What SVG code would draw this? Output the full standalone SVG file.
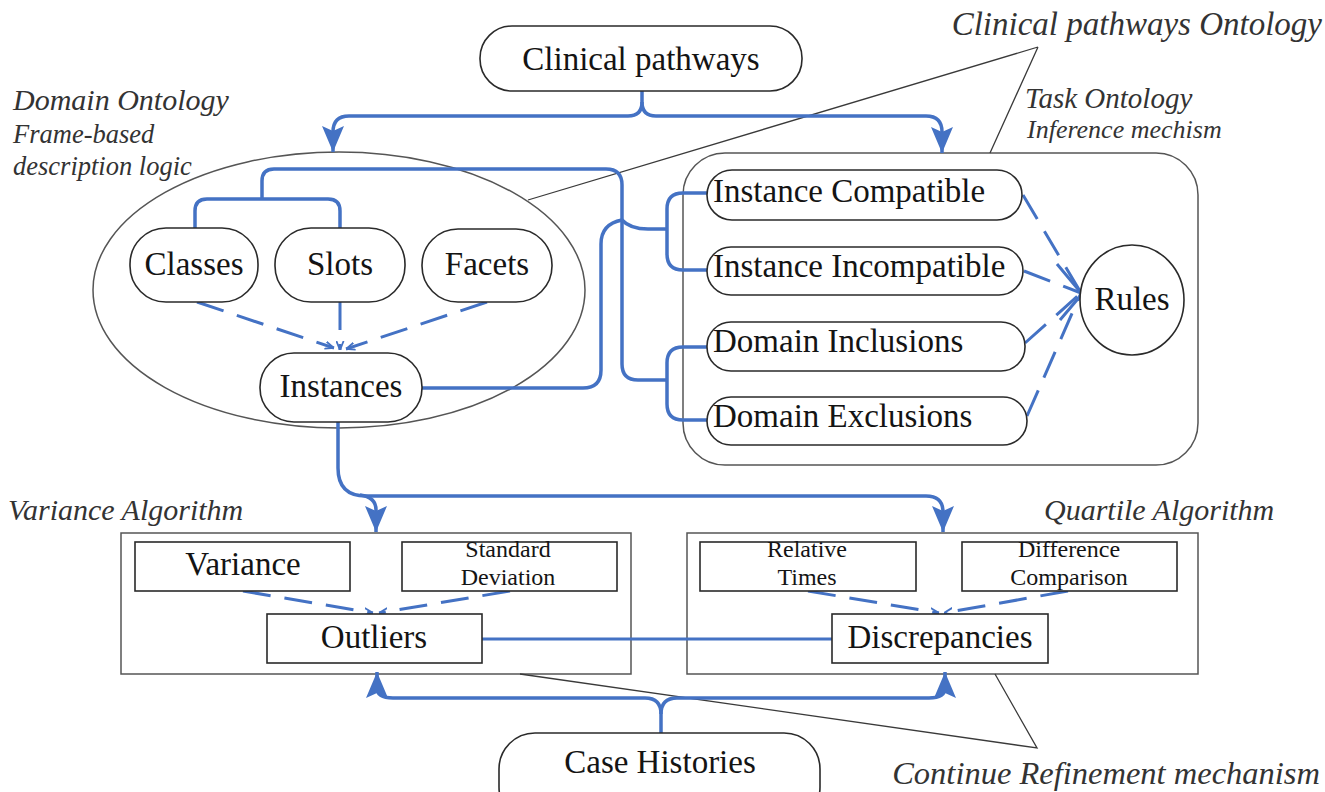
<svg xmlns="http://www.w3.org/2000/svg" width="1325" height="792" viewBox="0 0 1325 792">
  <style>
    .bg { fill: #ffffff; }
    .node { fill: #ffffff; stroke: #2a2a2a; stroke-width: 1.6; }
    .frame { fill: none; stroke: #555555; stroke-width: 1.5; }
    .lbl { font-family: "Liberation Serif", "Times New Roman", serif; font-size: 33px; fill: #141414; text-anchor: middle; }
    .lbl-l { font-family: "Liberation Serif", "Times New Roman", serif; font-size: 33px; fill: #141414; }
    .two { font-family: "Liberation Serif", "Times New Roman", serif; font-size: 24px; fill: #141414; text-anchor: middle; }
    .cap { font-family: "Liberation Serif", "Times New Roman", serif; font-style: italic; fill: #333333; }
    .flow { fill: none; stroke: #4472c4; stroke-width: 3.5; stroke-linejoin: round; }
    .link { fill: none; stroke: #4472c4; stroke-width: 3; }
    .dash { fill: none; stroke: #4472c4; stroke-width: 3; stroke-dasharray: 28 14; }
    .call { fill: none; stroke: #3a3a3a; stroke-width: 1.3; }
  </style>
  <defs>
    <marker id="arrow" viewBox="0 0 26 22" refX="26" refY="11" markerWidth="26" markerHeight="22" markerUnits="userSpaceOnUse" orient="auto">
      <path d="M0,0 L26,11 L0,22 L5,11 z" fill="#4472c4"/>
    </marker>
    <marker id="tip" viewBox="0 0 10 10" refX="10" refY="5" markerWidth="9" markerHeight="9" markerUnits="userSpaceOnUse" orient="auto">
      <path d="M0,1 L10,5 L0,9" fill="none" stroke="#4472c4" stroke-width="2"/>
    </marker>
  </defs>

  <rect class="bg" x="0" y="0" width="1325" height="792"/>

  <!-- containers and annotations -->
  <g id="domain-ontology">
    <ellipse class="frame" cx="339" cy="290" rx="246" ry="138"/>
    <text class="cap" x="13" y="110" font-size="30">Domain Ontology</text>
    <text class="cap" x="13" y="143" font-size="26.5">Frame-based</text>
    <text class="cap" x="13" y="175" font-size="26.5">description logic</text>
  </g>
  <g id="task-ontology">
    <rect class="frame" x="683" y="153" width="515" height="312" rx="42"/>
    <text class="cap" x="1025" y="108" font-size="29">Task Ontology</text>
    <text class="cap" x="1027" y="138" font-size="26">Inference mechism</text>
  </g>
  <g id="clinical-pathways-ontology">
    <text class="cap" x="1322" y="35" font-size="33" text-anchor="end">Clinical pathways Ontology</text>
    <path class="call" d="M1038,47 L528,200 M1038,47 L990,153"/>
  </g>
  <g id="variance-algorithm">
    <rect class="frame" x="121" y="533" width="510" height="141"/>
    <text class="cap" x="8" y="520" font-size="30">Variance Algorithm</text>
  </g>
  <g id="quartile-algorithm">
    <rect class="frame" x="687" y="533" width="511" height="141"/>
    <text class="cap" x="1044" y="520" font-size="30">Quartile Algorithm</text>
  </g>
  <g id="continue-refinement">
    <text class="cap" x="1320" y="784" font-size="32.5" text-anchor="end">Continue Refinement mechanism</text>
    <path class="call" d="M520,674 L1037,748 L995,674"/>
  </g>

  <!-- connectors -->
  <g id="connectors">
    <path class="flow" d="M642,91 V102 Q642,116 628,116 H349 Q333,116 333,132 V152" marker-end="url(#arrow)"/>
    <path class="flow" d="M642,102 Q642,116 656,116 H926 Q942,116 942,132 V153" marker-end="url(#arrow)"/>

    <path class="flow" d="M195,228 V211 Q195,199 207,199 H328 Q340,199 340,211 V228"/>
    <path class="flow" d="M262,199 V181 Q262,169 274,169 H606 Q622,169 622,185 V364 Q622,380 638,380 H667"/>
    <path class="flow" d="M707,347 H683 Q667,347 667,363 V404 Q667,420 683,420 H707"/>
    <path class="flow" d="M422,388 H583 Q601,388 601,370 V244 Q601,224 622,220 Q630,229 648,229 H667"/>
    <path class="flow" d="M707,193 H683 Q667,193 667,209 V254 Q667,270 683,270 H707"/>

    <path class="dash" d="M197,302 L334,348" marker-end="url(#tip)"/>
    <path class="dash" d="M340,302 L340,350" stroke-dasharray="31 12" marker-end="url(#tip)"/>
    <path class="dash" d="M487,302 L346,349" marker-end="url(#tip)"/>

    <path class="dash" d="M1023,195 L1081,293"/>
    <path class="dash" d="M1024,271 L1081,293"/>
    <path class="dash" d="M1025,343 L1081,293"/>
    <path class="dash" d="M1027,416 L1081,293"/>
    <path class="link" d="M1057,264 L1082,294 L1060,320"/>

    <path class="flow" d="M338,422 V468 Q338,496 366,496 H926 Q943,496 943,512 V532" marker-end="url(#arrow)"/>
    <path class="flow" d="M360,495 Q376,497 376,510 V532" marker-end="url(#arrow)"/>

    <path class="dash" d="M243,591 L373,613" stroke-dasharray="30 16" marker-end="url(#tip)"/>
    <path class="dash" d="M510,591 L379,613" stroke-dasharray="30 16" marker-end="url(#tip)"/>
    <path class="dash" d="M808,591 L939,613" stroke-dasharray="30 16" marker-end="url(#tip)"/>
    <path class="dash" d="M1068,591 L944,613" stroke-dasharray="30 16" marker-end="url(#tip)"/>

    <path class="link" d="M482,639 H832"/>

    <path class="flow" d="M661,733 V714 Q661,698 645,698 H393 Q377,698 377,688 V672" marker-end="url(#arrow)"/>
    <path class="flow" d="M661,714 Q661,698 677,698 H929 Q945,698 945,688 V672" marker-end="url(#arrow)"/>
  </g>

  <!-- nodes -->
  <g id="clinical-pathways">
    <rect class="node" x="480" y="26" width="322" height="65" rx="32"/>
    <text class="lbl" x="641" y="70">Clinical pathways</text>
  </g>
  <g id="classes">
    <rect class="node" x="130" y="228" width="128" height="74" rx="36"/>
    <text class="lbl" x="194" y="275">Classes</text>
  </g>
  <g id="slots">
    <rect class="node" x="275" y="228" width="130" height="74" rx="36"/>
    <text class="lbl" x="340" y="275">Slots</text>
  </g>
  <g id="facets">
    <rect class="node" x="422" y="229" width="130" height="73" rx="36"/>
    <text class="lbl" x="487" y="275">Facets</text>
  </g>
  <g id="instances">
    <rect class="node" x="260" y="353" width="162" height="69" rx="34"/>
    <text class="lbl" x="341" y="397">Instances</text>
  </g>
  <g id="instance-compatible">
    <rect class="node" x="707" y="170" width="315" height="50" rx="25"/>
    <text class="lbl-l" x="713" y="202">Instance Compatible</text>
  </g>
  <g id="instance-incompatible">
    <rect class="node" x="707" y="247" width="316" height="48" rx="24"/>
    <text class="lbl-l" x="713" y="277">Instance Incompatible</text>
  </g>
  <g id="domain-inclusions">
    <rect class="node" x="707" y="322" width="318" height="49" rx="24"/>
    <text class="lbl-l" x="713" y="352">Domain Inclusions</text>
  </g>
  <g id="domain-exclusions">
    <rect class="node" x="707" y="397" width="320" height="48" rx="24"/>
    <text class="lbl-l" x="713" y="427">Domain Exclusions</text>
  </g>
  <g id="rules">
    <ellipse class="node" cx="1132" cy="300" rx="52" ry="55"/>
    <text class="lbl" x="1132" y="310">Rules</text>
  </g>
  <g id="variance">
    <rect class="node" x="135" y="542" width="215" height="49"/>
    <text class="lbl" x="243" y="575">Variance</text>
  </g>
  <g id="standard-deviation">
    <rect class="node" x="402" y="542" width="215" height="49"/>
    <text class="two" x="508" y="557">Standard</text>
    <text class="two" x="508" y="585">Deviation</text>
  </g>
  <g id="outliers">
    <rect class="node" x="267" y="614" width="215" height="49"/>
    <text class="lbl" x="374" y="648">Outliers</text>
  </g>
  <g id="relative-times">
    <rect class="node" x="700" y="542" width="216" height="49"/>
    <text class="two" x="807" y="557">Relative</text>
    <text class="two" x="807" y="585">Times</text>
  </g>
  <g id="difference-comparison">
    <rect class="node" x="962" y="542" width="215" height="49"/>
    <text class="two" x="1069" y="557">Difference</text>
    <text class="two" x="1069" y="585">Comparison</text>
  </g>
  <g id="discrepancies">
    <rect class="node" x="832" y="614" width="216" height="49"/>
    <text class="lbl" x="940" y="648">Discrepancies</text>
  </g>
  <g id="case-histories">
    <rect class="node" x="499" y="733" width="321" height="90" rx="36"/>
    <text class="lbl" x="660" y="773">Case Histories</text>
  </g>
</svg>
